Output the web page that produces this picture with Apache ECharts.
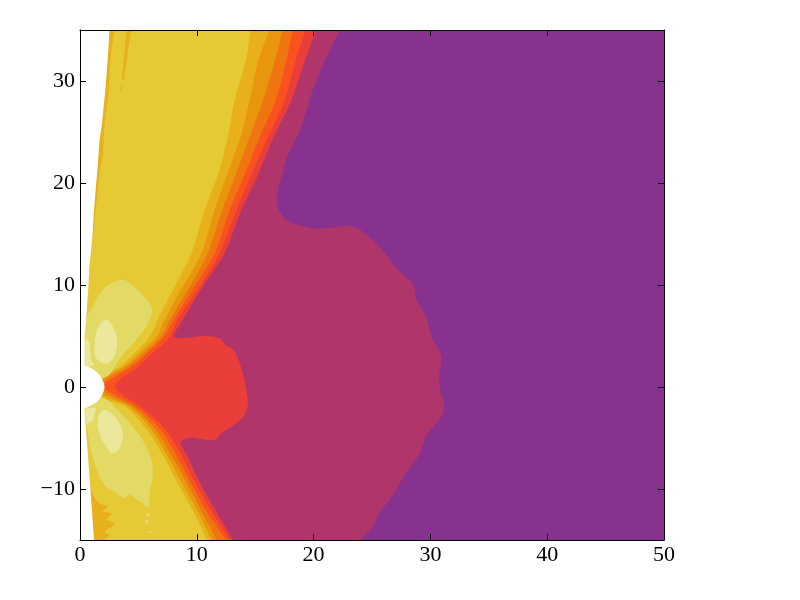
<!DOCTYPE html>
<html>
<head>
    <meta charset="utf-8"/>
    <title>contour</title>
    <style>
        html, body { margin: 0; padding: 0; background: #fff; }
        #chart { width: 800px; height: 600px; }
    </style>
</head>
<body>
<div id="chart"></div>
<script src="https://cdn.jsdelivr.net/npm/echarts@6/dist/echarts.min.js"></script>
<script>
    var xTicks = [0, 10, 20, 30, 40, 50];
    var yTicks = [-10, 0, 10, 20, 30];

    // contour edges, [x, y], top to bottom
    // first and last points sit just outside the plot, the series clips them
    var purpleEdge = [[23.2,37],[22.24,35],[21.52,33.24],[20.8,31.6],[20.09,29.64],[19.52,27.67],[19.09,26.04],[18.53,24.41],[17.8,22.77],[17.38,21.13],[17.09,19.99],[16.86,18.35],[17.09,17.2],[17.8,16.29],[19.81,15.57],[21.23,15.57],[22.95,15.8],[23.95,15.41],[25.38,14.1],[26.24,12.95],[27.23,11.48],[28.52,10.01],[28.81,8.54],[29.52,7.23],[29.95,5.59],[30.23,4.61],[30.95,2.97],[30.75,1.01],[30.87,-0.29],[31.17,-1.77],[30.95,-2.91],[29.67,-4.71],[29.09,-6.51],[27.87,-8.47],[26.8,-10.6],[25.52,-12.56],[24.95,-13.87],[24.04,-15],[23,-17]];
    var crimsonEdge = [[21,37],[20.24,35],[19.32,32.26],[18.1,28.1],[16.58,24.5],[15.24,20.8],[13.81,17.35],[12.38,13.1],[10.5,9.83],[8.81,6.57],[8.04,4.94],[9.38,4.84],[10.67,5],[11.95,4.78],[12.53,4.05],[13.09,3.73],[13.67,2.33],[14.1,0.52],[14.38,-1.6],[14.1,-2.75],[13.38,-3.56],[12.1,-4.54],[11.53,-5.2],[10.52,-5.13],[9.53,-4.94],[8.81,-5.2],[8.61,-5.52],[9.15,-6.67],[10.09,-8.96],[11.67,-12.24],[13.11,-15],[14.2,-17]];
    var redEdge = [[20,37],[19.32,35],[18.53,32.26],[17.52,28.1],[16.09,24.5],[14.67,20.8],[13.41,17.35],[11.95,13.1],[10.24,9.83],[8.35,6.57],[7.67,4.9],[6.24,3.33],[4.85,1.9],[3,0],[5.2,-1.93],[7.24,-4.05],[8.67,-6.67],[9.67,-8.96],[11.29,-12.24],[12.81,-15],[13.9,-17]];
    var flameEdge = [[18.8,37],[18.21,35],[17.72,32.26],[16.75,28.1],[15.38,24.5],[14.1,20.8],[12.81,17.35],[11.53,13.1],[9.81,9.83],[8.01,6.57],[7.16,4.9],[5.76,3.33],[4.3,1.9],[2.18,0.36],[2.18,-0.2],[4.8,-1.93],[6.81,-4.05],[8.24,-6.67],[9.3,-8.96],[10.87,-12.24],[12.51,-15],[13.6,-17]];
    var orangeEdge = [[17.8,37],[17.35,35],[16.75,32.26],[15.66,28.1],[14.52,24.5],[13.33,20.8],[12.19,17.35],[10.93,13.1],[9.38,9.83],[7.67,6.57],[6.9,4.9],[5.44,3.33],[3.95,1.9],[2.1,0.6],[2.1,-0.46],[4.5,-1.93],[6.38,-4.05],[7.81,-6.67],[8.95,-8.96],[10.44,-12.24],[11.7,-15],[12.7,-17]];
    var darkAmberEdge = [[16.8,37],[16.24,35],[15.32,32.26],[14.52,28.1],[13.73,24.5],[12.58,20.8],[11.53,17.35],[10.39,13.1],[8.78,9.83],[7.24,6.57],[6.53,4.9],[5.1,3.33],[3.65,1.9],[1.95,0.9],[1.95,-0.72],[4.2,-1.93],[6.02,-4.05],[7.44,-6.67],[8.53,-8.96],[10.09,-12.24],[11.27,-15],[12.2,-17]];
    var amberEdge = [[15,37],[14.61,35],[14.24,32.26],[13.24,28.1],[12.66,24.5],[11.81,20.8],[10.67,17.35],[9.53,13.1],[8.1,9.83],[6.64,6.57],[5.96,4.9],[4.67,3.33],[3.3,1.9],[1.87,1.08],[1.87,-0.95],[3.9,-1.93],[5.61,-4.05],[7.1,-6.67],[8.15,-8.96],[9.72,-12.24],[10.88,-15],[11.8,-17]];
    // left side of the yellow band, bottom to top
    var yellowLeft = [[2,-17],[2.2,-15],[2.5,-14.5],[2.1,-14.2],[2.96,-13.4],[2.3,-13],[2.75,-12.4],[2,-12.2],[2.38,-11.7],[1.67,-11.4],[0.96,-10.1],[0.55,-4.5],[0.4,-2],[0.4,4.6],[0.6,7.2],[0.81,11.9],[1.1,14.4],[1.27,16.7],[1.53,19.2],[1.67,21],[1.96,22.7],[2.1,25.7],[2.47,29],[2.61,32.26],[2.96,35],[3.2,37]];
    var amberStreak = [[3.96,35],[4.39,35],[4.1,32.9],[3.75,30.1],[3.58,30.1],[3.81,32.9]];
    var amberSpeck = [[3.47,29.5],[3.56,29.5],[3.56,29],[3.47,29]];

    var lightTop = [[3.81,10.5],[4.93,9.52],[6.1,7.88],[5.96,6.58],[4.93,4.81],[3.53,2.97],[2.25,1.01],[0.4,1],[0.4,4.6],[0.53,6.58],[1.24,8.24],[1.95,9.52],[2.96,10.33]];
    var lightBottom = [[2.04,-1.1],[3.24,-2.26],[4.52,-3.9],[5.67,-5.86],[6.24,-8.15],[5.96,-10.43],[5.87,-11.75],[5.38,-11.41],[4.9,-11.1],[4.24,-10.6],[3.7,-10.9],[3.24,-10.43],[2.25,-9.78],[1.24,-7.49],[0.67,-4.54],[0.39,-2.26],[0.4,-1]];
    var lightSpeckA = [[5.7,-12.4],[6,-12.4],[6,-12.7],[5.7,-12.7]];
    var lightSpeckB = [[5.55,-13.05],[5.85,-13.05],[5.85,-13.35],[5.55,-13.35]];
    var lightSpeckC = [[5.8,-14.1],[6.15,-14.1],[6.15,-14.3],[5.8,-14.3]];
    var paleTop = [[2.25,6.58],[2.95,5.6],[3.18,4.44],[2.95,3.1],[2.25,2.32],[1.39,2.81],[1.24,4.15],[1.53,5.76]];
    var paleTopStrip = [[0.33,4.8],[0.81,4.4],[0.96,2.65],[1.24,2.16],[0.3,1.8]];
    var paleBottom = [[1.95,-2.26],[2.67,-2.58],[3.38,-3.56],[3.67,-4.71],[3.38,-6.02],[2.81,-6.51],[2.25,-5.86],[1.67,-4.54],[1.53,-3.24]];
    var paleBottomStrip = [[0.39,-2.1],[1.4,-2],[1.1,-3.3],[0.55,-3.6]];

    // the empty parts next to x = 0
    var blankTop = [[0,35],[2.53,35],[2.38,32.26],[2.16,29],[1.87,25.7],[1.67,24.2],[1.47,21],[1.33,19.2],[1.16,16.7],[1.05,14.4],[0.81,11.9],[0.7,9.5],[0.57,7.2],[0.37,4.6],[0.37,2],[0,2]];
    var blankHole = [[0,2.05],[0.7,1.95],[1.4,1.5],[1.85,0.85],[2.1,0],[1.85,-0.85],[1.4,-1.5],[0.7,-1.95],[0,-2.05]];
    var blankBottom = [[0,-2],[0.37,-2.1],[0.65,-6.2],[1,-11.7],[1.2,-15],[0,-15]];

    var leftClose = [[-3,-18],[-3,38]];

    var colors = {
        purple: '#87328f',
        crimson: '#b0356a',
        red: '#e93e3a',
        flame: '#fa521f',
        orange: '#ef7510',
        darkAmber: '#e8960e',
        amber: '#e8b11c',
        yellow: '#e5c935',
        light: '#e3d965',
        pale: '#ebe89b'
    };

    // painted in this order, later ones cover earlier ones
    var layers = [
        {color: colors.purple, smooth: 0, points: [[0,35],[50,35],[50,-15],[0,-15]]},
        {color: colors.crimson, smooth: 0.3, points: purpleEdge.concat(leftClose)},
        {color: colors.red, smooth: 0.3, points: crimsonEdge.concat(leftClose)},
        {color: colors.flame, smooth: 0.3, points: redEdge.concat(leftClose)},
        {color: colors.orange, smooth: 0.3, points: flameEdge.concat(leftClose)},
        {color: colors.darkAmber, smooth: 0.3, points: orangeEdge.concat(leftClose)},
        {color: colors.amber, smooth: 0.3, points: darkAmberEdge.concat(leftClose)},
        {color: colors.yellow, smooth: 0.3, points: amberEdge.concat(yellowLeft)},
        {color: colors.amber, smooth: 0, points: amberStreak},
        {color: colors.amber, smooth: 0, points: amberSpeck},
        {color: colors.light, smooth: 0.4, points: lightTop},
        {color: colors.light, smooth: 0.4, points: lightBottom},
        {color: colors.light, smooth: 0, points: lightSpeckA},
        {color: colors.light, smooth: 0, points: lightSpeckB},
        {color: colors.light, smooth: 0, points: lightSpeckC},
        {color: colors.pale, smooth: 0.4, points: paleTop},
        {color: colors.pale, smooth: 0, points: paleTopStrip},
        {color: colors.pale, smooth: 0.4, points: paleBottom},
        {color: colors.pale, smooth: 0, points: paleBottomStrip},
        {color: '#ffffff', smooth: 0, points: blankTop},
        {color: '#ffffff', smooth: 0.3, points: blankHole},
        {color: '#ffffff', smooth: 0, points: blankBottom}
    ];

    var tickStyle = {show: true, inside: true, length: 6, lineStyle: {color: '#000', width: 1}};
    var lineStyle = {show: true, onZero: false, lineStyle: {color: '#000', width: 1}};
    var labelStyle = {color: '#000', fontFamily: '"Liberation Serif"', fontSize: 22};

    var chart = echarts.init(document.getElementById('chart'));
    chart.setOption({
        animation: false,
        grid: {left: 80, top: 30, width: 584, height: 510},
        xAxis: [
            {type: 'value', position: 'bottom', min: 0, max: 50, interval: 10, z: 10,
                splitLine: {show: false}, axisLine: lineStyle, axisTick: tickStyle,
                axisLabel: Object.assign({margin: 4}, labelStyle)},
            {type: 'value', position: 'top', min: 0, max: 50, interval: 10, z: 10,
                splitLine: {show: false}, axisLine: lineStyle, axisTick: tickStyle, axisLabel: {show: false}}
        ],
        yAxis: [
            {type: 'value', position: 'left', min: -15, max: 35, z: 10,
                splitLine: {show: false}, axisLine: lineStyle,
                axisTick: Object.assign({customValues: yTicks}, tickStyle),
                axisLabel: Object.assign({
                    margin: 5,
                    customValues: yTicks,
                    formatter: function (val) { return String(val).replace('-', '\u2212'); }
                }, labelStyle)},
            {type: 'value', position: 'right', min: -15, max: 35, z: 10,
                splitLine: {show: false}, axisLine: lineStyle,
                axisTick: Object.assign({customValues: yTicks}, tickStyle),
                axisLabel: {show: false}}
        ],
        series: [{
            type: 'custom',
            coordinateSystem: 'cartesian2d',
            silent: true,
            clip: true,
            data: layers.map(function (l, i) { return [i]; }),
            encode: {x: [], y: []},
            renderItem: function (params, api) {
                var layer = layers[api.value(0)];
                return {
                    type: 'polygon',
                    shape: {
                        points: layer.points.map(function (p) { return api.coord(p); }),
                        smooth: layer.smooth
                    },
                    style: {fill: layer.color}
                };
            }
        }]
    });
</script>
</body>
</html>
